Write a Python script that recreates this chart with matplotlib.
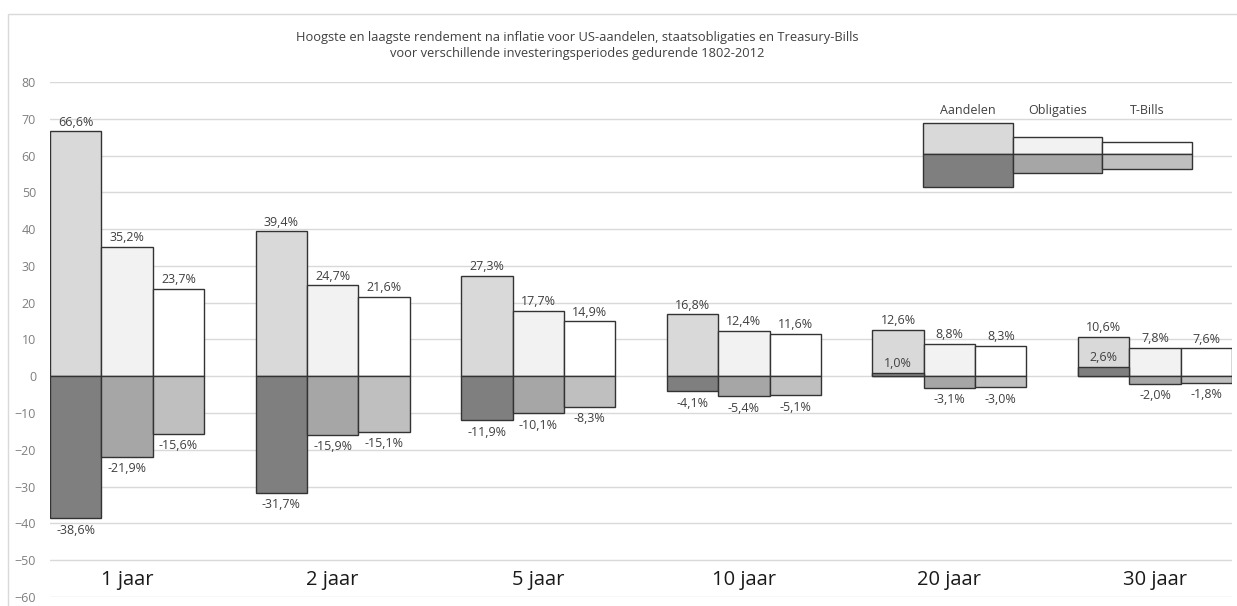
import matplotlib.pyplot as plt
from matplotlib.patches import Rectangle
import numpy as np

plt.rcParams['font.family'] = ['Open Sans', 'DejaVu Sans']

perioden = ['1 jaar', '2 jaar', '5 jaar', '10 jaar', '20 jaar', '30 jaar']
reeksen = ['Aandelen', 'Obligaties', 'T-Bills']

# hoogste en laagste reeel rendement per periode (%)
hoogste_aandelen = [66.6, 39.4, 27.3, 16.8, 12.6, 10.6]
hoogste_obligaties = [35.2, 24.7, 17.7, 12.4, 8.8, 7.8]
hoogste_tbills = [23.7, 21.6, 14.9, 11.6, 8.3, 7.6]
laagste_aandelen = [-38.6, -31.7, -11.9, -4.1, 1.0, 2.6]
laagste_obligaties = [-21.9, -15.9, -10.1, -5.4, -3.1, -2.0]
laagste_tbills = [-15.6, -15.1, -8.3, -5.1, -3.0, -1.8]

hoogste = [hoogste_aandelen, hoogste_obligaties, hoogste_tbills]
laagste = [laagste_aandelen, laagste_obligaties, laagste_tbills]
kleur_hoog = ['#d9d9d9', '#f2f2f2', '#ffffff']
kleur_laag = ['#7f7f7f', '#a6a6a6', '#bfbfbf']
rand = '#333333'

fig = plt.figure(figsize=(12.37, 6.06), dpi=100)
ax = fig.add_axes([0.0404, 0.0149, 0.9556, 0.8498])

x = np.arange(len(perioden))
w = 0.25

def fmt(v):
    return f'{v:.1f}%'.replace('.', ',')

for i in range(3):
    pos = x + (i - 1) * w
    ax.bar(pos, hoogste[i], w, color=kleur_hoog[i], edgecolor=rand, linewidth=1, zorder=3)
    ax.bar(pos, laagste[i], w, color=kleur_laag[i], edgecolor=rand, linewidth=1, zorder=4)
    for p, v in zip(pos, hoogste[i]):
        ax.annotate(fmt(v), (p, v), xytext=(0, 2), textcoords='offset points',
                    ha='center', va='bottom', fontsize=9, color='#404040', zorder=5)
    for p, v in zip(pos, laagste[i]):
        if v < 0:
            ax.annotate(fmt(v), (p, v), xytext=(0, -4), textcoords='offset points',
                        ha='center', va='top', fontsize=9, color='#404040', zorder=5)
        else:
            ax.annotate(fmt(v), (p, v), xytext=(0, 2), textcoords='offset points',
                        ha='center', va='bottom', fontsize=9, color='#404040', zorder=5)

# categorie-labels onderin de grafiek
for xi, naam in zip(x, perioden):
    ax.text(xi, -55.3, naam, ha='center', va='center', fontsize=14.5, color='#1a1a1a')

ax.set_xlim(-0.375, 5.375)
ax.set_ylim(-60, 80)
ax.set_yticks(range(-60, 81, 10))
ax.set_xticks([])
ax.tick_params(axis='y', length=0, pad=10, labelsize=9, labelcolor='#7f7f7f')
ax.grid(axis='y', color='#d9d9d9', linewidth=1, zorder=0)
for s in ax.spines.values():
    s.set_visible(False)

# zelfgetekende legenda rechtsboven
leg_x = [0.7386, 0.8147, 0.890, 0.966]
leg_top = [0.9204, 0.8932, 0.8835]
leg_mid = 0.8602
leg_bot = [0.7961, 0.8233, 0.8311]
for i in range(3):
    bw = leg_x[i + 1] - leg_x[i]
    ax.add_patch(Rectangle((leg_x[i], leg_mid), bw, leg_top[i] - leg_mid, transform=ax.transAxes,
                           facecolor=kleur_hoog[i], edgecolor=rand, linewidth=1, zorder=6))
    ax.add_patch(Rectangle((leg_x[i], leg_bot[i]), bw, leg_mid - leg_bot[i], transform=ax.transAxes,
                           facecolor=kleur_laag[i], edgecolor=rand, linewidth=1, zorder=6))
    ax.text(leg_x[i] + bw / 2, 0.9456, reeksen[i], transform=ax.transAxes,
            ha='center', va='center', fontsize=9, color='#404040')

fig.text(0.467, 0.925,
         'Hoogste en laagste rendement na inflatie voor US-aandelen, staatsobligaties en Treasury-Bills\n'
         'voor verschillende investeringsperiodes gedurende 1802-2012',
         ha='center', va='center', fontsize=9.3, color='#404040', linespacing=1.3)

# kader van het grafiekgebied
fig.patches.append(Rectangle((0.0065, -0.1), 1.1, 1.077, transform=fig.transFigure,
                             fill=False, edgecolor='#d9d9d9', linewidth=1))

fig.savefig('out.png', dpi=100)
